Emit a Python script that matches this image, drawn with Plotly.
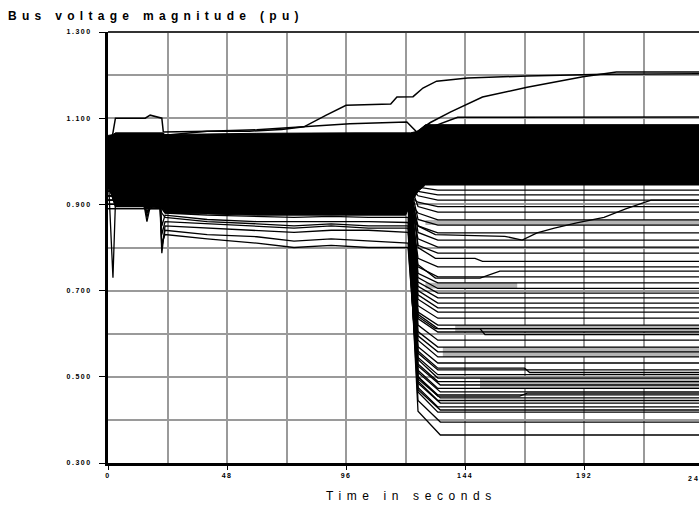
import plotly.graph_objects as go

# ---------------- tick labels ----------------
y_tick_vals = [0.3, 0.5, 0.7, 0.9, 1.1, 1.3]
x_tick_vals = [0, 48, 96, 144, 192]
x_cut_tick = 240

# ---------------- dense band of bus voltages (envelope) ----------------
band_t  = [0, 2, 3, 14, 22, 23, 60, 100, 120, 122, 125, 128, 240]
band_hi = [1.060, 1.062, 1.066, 1.066, 1.066, 1.062, 1.065, 1.066, 1.066, 1.066, 1.070, 1.085, 1.085]
band_lo = [0.950, 0.910, 0.895, 0.895, 0.890, 0.880, 0.875, 0.875, 0.875, 0.900, 0.930, 0.945, 0.945]

# ---------------- grey zones of overlapping traces after collapse ----------------
grey_t  = [[128, 240], [140, 240], [128, 165], [150, 240], [135, 240]]
grey_hi = [[0.864, 0.864], [0.620, 0.620], [0.718, 0.718], [0.497, 0.497], [0.569, 0.569]]
grey_lo = [[0.852, 0.852], [0.604, 0.604], [0.705, 0.705], [0.473, 0.473], [0.546, 0.546]]

# ---------------- upper buses (rising voltages) ----------------
busA_t = [0, 2, 3, 15, 17, 21.7, 22.3, 40, 57, 70, 79, 88, 96, 114, 116.5, 123, 127, 132.5, 145, 169, 200, 240]
busA_v = [1.00, 1.073, 1.100, 1.100, 1.107, 1.100, 1.068, 1.070, 1.070, 1.074, 1.080, 1.107, 1.130,
          1.133, 1.149, 1.150, 1.170, 1.186, 1.193, 1.198, 1.202, 1.203]
busB_t = [0, 3, 22, 40, 60, 79, 97.5, 120.5, 124.5, 130, 138, 151, 169, 191.5, 205, 240]
busB_v = [1.00, 1.050, 1.060, 1.070, 1.073, 1.080, 1.087, 1.091, 1.068, 1.090, 1.114, 1.149, 1.172,
          1.196, 1.207, 1.207]
busC_t = [0, 120, 126, 133, 141, 240]
busC_v = [1.05, 1.060, 1.070, 1.085, 1.102, 1.103]

# ---------------- buses with stepwise changes after collapse ----------------
busD_t = [0, 121, 125, 132, 160, 167, 173, 180, 189, 200, 209, 216, 219, 240]
busD_v = [0.95, 0.950, 0.850, 0.830, 0.826, 0.817, 0.834, 0.845, 0.857, 0.870, 0.890, 0.905, 0.910, 0.910]
busE_t = [0, 121, 125, 132, 150, 155, 158, 240]
busE_v = [0.96, 0.960, 0.760, 0.729, 0.729, 0.740, 0.745, 0.745]
busF_t = [0, 121, 125, 132, 150, 152, 240]
busF_v = [0.97, 0.970, 0.640, 0.612, 0.612, 0.598, 0.598]
busG_t = [0, 121, 125, 133, 168, 170, 240]
busG_v = [0.93, 0.930, 0.560, 0.520, 0.520, 0.510, 0.510]
busH_t = [0, 121, 125, 132, 148, 151, 240]
busH_v = [0.99, 0.990, 0.800, 0.775, 0.775, 0.768, 0.768]
busI_t = [0, 121, 125, 133, 166, 169, 240]
busI_v = [0.92, 0.920, 0.500, 0.455, 0.455, 0.462, 0.462]

# ---------------- weak buses: detailed pre-collapse history ----------------
pre_t = [0, 2, 3, 14.5, 15.7, 17, 21, 21.7, 23, 40, 60, 75, 90, 105, 121]
weak1 = [0.98, 0.73, 0.905, 0.905, 0.900, 0.900, 0.900, 0.890, 0.880, 0.875, 0.872, 0.870, 0.872, 0.870, 0.870]
weak2 = [0.96, 0.93, 0.900, 0.900, 0.860, 0.895, 0.895, 0.880, 0.870, 0.860, 0.855, 0.850, 0.855, 0.850, 0.850]
weak3 = [0.95, 0.92, 0.895, 0.895, 0.880, 0.890, 0.890, 0.787, 0.850, 0.845, 0.840, 0.835, 0.840, 0.840, 0.835]
weak4 = [0.94, 0.915, 0.910, 0.910, 0.870, 0.900, 0.900, 0.800, 0.840, 0.830, 0.825, 0.815, 0.820, 0.815, 0.810]
weak5 = [0.95, 0.92, 0.910, 0.910, 0.880, 0.905, 0.900, 0.810, 0.830, 0.820, 0.810, 0.800, 0.805, 0.800, 0.800]
weak6 = [0.95, 0.925, 0.920, 0.920, 0.890, 0.910, 0.905, 0.830, 0.860, 0.855, 0.850, 0.845, 0.850, 0.845, 0.845]
weak7 = [0.96, 0.93, 0.915, 0.915, 0.900, 0.910, 0.910, 0.850, 0.875, 0.865, 0.860, 0.860, 0.860, 0.860, 0.858]
weak_knee = [0.420, 0.445, 0.470, 0.485, 0.495, 0.510, 0.525]
weak_post = [0.365, 0.395, 0.423, 0.439, 0.451, 0.465, 0.481]

# ---------------- other collapsing buses: before / knee / after collapse ----------------
collapse_pre  = [0.93, 0.94, 0.95, 0.92, 0.96, 0.91, 0.97, 0.90, 0.98, 0.93, 0.99, 0.95, 0.89, 1.00,
                 0.94, 0.92, 1.01, 0.96, 0.90, 1.02, 0.95, 0.93, 0.97, 0.91, 1.03, 0.94, 0.96, 0.92,
                 0.98, 0.90, 1.04, 0.95, 0.93, 0.97, 0.89, 0.99, 0.91, 0.94]
collapse_knee = [0.940, 0.930, 0.920, 0.905, 0.895, 0.880, 0.865, 0.850, 0.835, 0.820, 0.805, 0.775,
                 0.755, 0.740, 0.730, 0.720, 0.710, 0.700, 0.690, 0.680, 0.665, 0.650, 0.645, 0.635,
                 0.620, 0.605, 0.595, 0.585, 0.570, 0.555, 0.545, 0.540, 0.530, 0.515, 0.500, 0.490,
                 0.475, 0.465]
collapse_post = [0.933, 0.922, 0.910, 0.895, 0.882, 0.864, 0.852, 0.834, 0.817, 0.801, 0.787, 0.755,
                 0.732, 0.718, 0.705, 0.694, 0.683, 0.671, 0.660, 0.650, 0.636, 0.620, 0.612, 0.604,
                 0.585, 0.569, 0.558, 0.546, 0.532, 0.516, 0.505, 0.497, 0.489, 0.473, 0.458, 0.445,
                 0.430, 0.418]
collapse_t = [0, 121, 125, 133, 240]

fig = go.Figure()
line_style = dict(color="black", width=1.3)

# dense band as filled polygon
fig.add_trace(go.Scatter(x=band_t + band_t[::-1], y=band_hi + band_lo[::-1], fill="toself",
                         fillcolor="black", line=dict(color="black", width=1), mode="lines",
                         hoverinfo="skip"))

for gt, gh, gl in zip(grey_t, grey_hi, grey_lo):
    fig.add_trace(go.Scatter(x=gt + gt[::-1], y=gh + gl[::-1], fill="toself", fillcolor="#b4b4b4",
                             line=dict(width=0), mode="lines", hoverinfo="skip"))

for pre, knee, post in zip(collapse_pre, collapse_knee, collapse_post):
    fig.add_trace(go.Scatter(x=collapse_t, y=[pre, pre, knee, post, post], mode="lines", line=line_style))

for hist, knee, post in zip([weak1, weak2, weak3, weak4, weak5, weak6, weak7], weak_knee, weak_post):
    fig.add_trace(go.Scatter(x=pre_t + [125, 134, 240], y=hist + [knee, post, post], mode="lines",
                             line=line_style))

for tt, vv in [(busD_t, busD_v), (busE_t, busE_v), (busF_t, busF_v), (busG_t, busG_v),
               (busH_t, busH_v), (busI_t, busI_v)]:
    fig.add_trace(go.Scatter(x=tt, y=vv, mode="lines", line=line_style))

for tt, vv in [(busA_t, busA_v), (busB_t, busB_v), (busC_t, busC_v)]:
    fig.add_trace(go.Scatter(x=tt, y=vv, mode="lines", line=dict(color="black", width=1.5)))

tick_font = dict(family="Liberation Sans, Arial", size=7, color="black", weight="bold")

fig.update_layout(
    width=699, height=506,
    margin=dict(l=108, r=0, t=32, b=43),
    paper_bgcolor="white", plot_bgcolor="white",
    showlegend=False,
    title=dict(text="Bus voltage magnitude (pu)", xref="container", yref="container",
               x=8 / 699, y=1 - 16 / 506, xanchor="left", yanchor="middle",
               font=dict(family="Liberation Sans, Arial", size=12, color="black", weight="bold")),
    xaxis=dict(range=[0, 238.3], tickvals=x_tick_vals, ticktext=[str(v) for v in x_tick_vals],
               showgrid=True, gridcolor="#9a9a9a", gridwidth=1.5,
               minor=dict(tickvals=[24, 72, 120, 168, 216], showgrid=True, gridcolor="#9a9a9a", gridwidth=1.5),
               showline=True, linecolor="black", linewidth=3, ticks="outside", ticklen=4,
               tickcolor="black", tickfont=tick_font, zeroline=False),
    yaxis=dict(range=[0.3, 1.3], tickvals=y_tick_vals, ticktext=["%.3f" % v for v in y_tick_vals],
               showgrid=True, gridcolor="#9a9a9a", gridwidth=1.5,
               minor=dict(tickvals=[0.4, 0.6, 0.8, 1.0, 1.2], showgrid=True, gridcolor="#9a9a9a", gridwidth=1.5),
               showline=True, linecolor="black", linewidth=3, ticks="outside", ticklen=6,
               tickcolor="black", tickfont=tick_font, zeroline=False, ticklabelstandoff=6),
)

fig.add_shape(type="line", xref="paper", yref="paper", x0=0, x1=1, y0=1, y1=1,
              line=dict(color="#333333", width=2))
fig.add_annotation(text=str(x_cut_tick), xref="paper", yref="paper",
                   x=(697 - 108) / 591, y=0, yshift=-10, yanchor="top", xanchor="center",
                   showarrow=False, font=tick_font)
fig.add_annotation(text="Time in seconds", xref="paper", yref="paper", name="xt",
                   x=(411 - 108) / 591, y=0, yshift=-24, yanchor="top", xanchor="center",
                   showarrow=False,
                   font=dict(family="Liberation Sans, Arial", size=12, color="black"))

post_js = """
var gd = document.getElementById('{plot_id}');
function spacing(){
  gd.querySelectorAll('.gtitle').forEach(function(e){e.style.letterSpacing='5.3px';});
  gd.querySelectorAll('.annotation-text').forEach(function(e){
    if (e.textContent.indexOf('Time') === 0) { e.style.letterSpacing='5.6px'; }
    else { e.style.letterSpacing='2px'; }
  });
  gd.querySelectorAll('.xtick text, .ytick text').forEach(function(e){e.style.letterSpacing='1.5px';});
}
spacing();
gd.on('plotly_afterplot', spacing);
"""
fig.write_html("out.html", post_script=post_js)
